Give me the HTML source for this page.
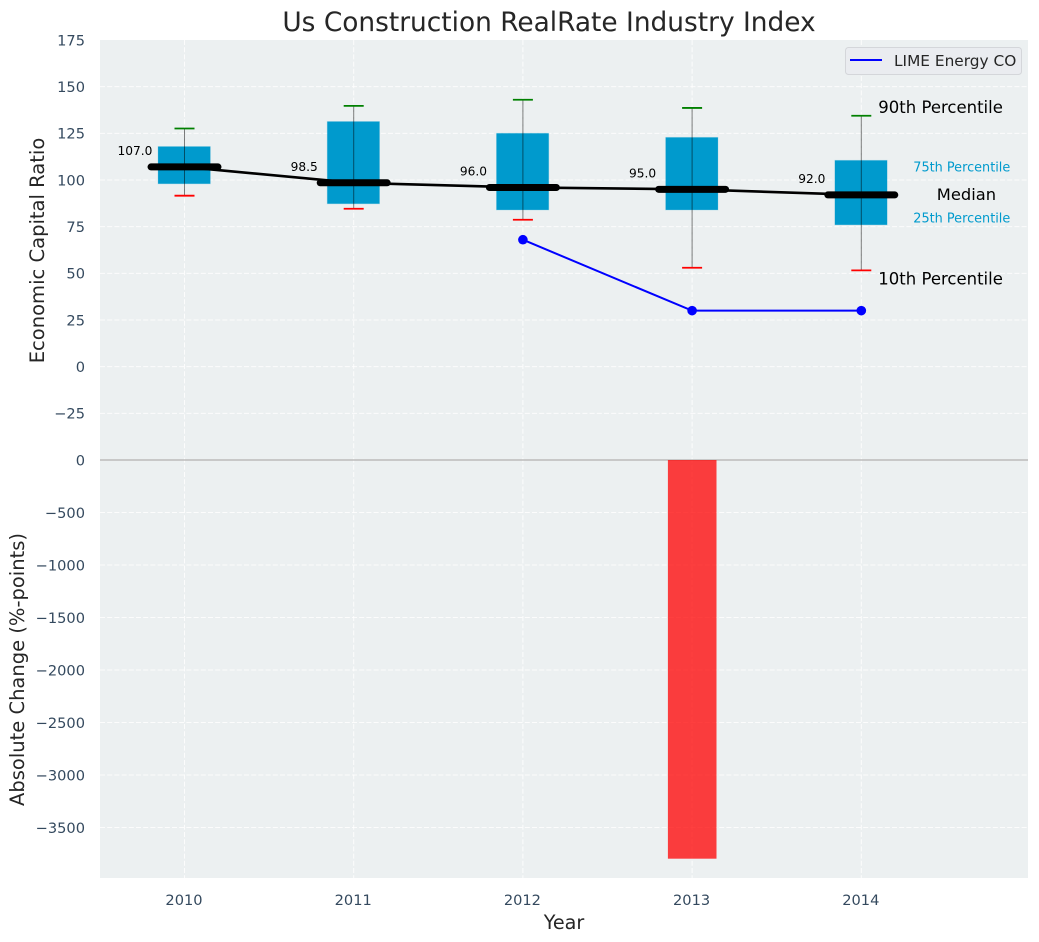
<!DOCTYPE html>
<html><head><meta charset="utf-8"><title>Us Construction RealRate Industry Index</title>
<style>
html,body{margin:0;padding:0;background:#fff;width:1039px;height:942px;overflow:hidden}
svg{display:block}
text{font-family:"DejaVu Sans","Liberation Sans",sans-serif}
</style></head>
<body>
<svg id="chart" width="1039" height="942" viewBox="0 0 1039 942" xmlns="http://www.w3.org/2000/svg"></svg>
<script>
const years = [2010, 2011, 2012, 2013, 2014];
const p90 = [127.6, 139.7, 143, 138.6, 134.4];
const p75 = [117.9, 131.3, 125, 122.8, 110.5];
const medians = [107, 98.5, 96, 95, 92];
const p25 = [98, 87.3, 84, 84, 76];
const p10 = [91.6, 84.6, 78.7, 53, 51.6];
const companyYears = [2012, 2013, 2014];
const companyValues = [68, 30, 30];
const changeYears = [2013];
const changeValues = [-3797];
const upperTicks = [175, 150, 125, 100, 75, 50, 25, 0, -25];
const lowerTicks = [0, -500, -1000, -1500, -2000, -2500, -3000, -3500];

const NS = 'http://www.w3.org/2000/svg';
const svg = document.getElementById('chart');
const plot = {left: 100, right: 1028, top: 40, mid: 460, bottom: 878};
const x = v => 184.5 + (v - 2010) * 169.2;
const yUp = v => 40 + (175 - v) * 420 / 225;
const yLow = v => 460 + (0 - v) * 0.105;
const fmt = v => String(v).replace('-', '\u2212');

function mk(tag, attrs, txt) {
  const e = document.createElementNS(NS, tag);
  for (const k in attrs) e.setAttribute(k, attrs[k]);
  if (txt !== undefined) e.textContent = txt;
  svg.appendChild(e);
  return e;
}
let el;

el = mk('rect', {x: plot.left, y: plot.top, width: plot.right - plot.left, height: plot.mid - plot.top, fill: '#ecf0f1'});


el = mk('rect', {x: plot.left, y: plot.mid, width: plot.right - plot.left, height: plot.bottom - plot.mid, fill: '#ecf0f1'});



const gridStyle = {stroke: '#ffffff', 'stroke-width': 1, 'stroke-dasharray': '5 2.2', opacity: 0.85};

upperTicks.forEach(t => {
  if (t !== 175) {
    el = mk('line', Object.assign({x1: plot.left, x2: plot.right, y1: yUp(t), y2: yUp(t)}, gridStyle));
    
    
  }
  el = mk('text', {x: 85, y: yUp(t) + 5.3, 'text-anchor': 'end', 'font-size': 14.6, fill: '#34495e'}, fmt(t));
  
  
});
lowerTicks.forEach(t => {
  if (t !== 0) {
    el = mk('line', Object.assign({x1: plot.left, x2: plot.right, y1: yLow(t), y2: yLow(t)}, gridStyle));
    
    
  }
  el = mk('text', {x: 85, y: yLow(t) + 5.3, 'text-anchor': 'end', 'font-size': 14.6, fill: '#34495e'}, fmt(t));
  
  
});
years.forEach(yr => {
  el = mk('line', Object.assign({x1: x(yr), x2: x(yr), y1: plot.top, y2: plot.bottom}, gridStyle));
  
  
  el = mk('text', {x: x(yr) - 0.5, y: 905, 'text-anchor': 'middle', 'font-size': 14.6, fill: '#34495e'}, yr);
  
  
});

el = mk('line', {x1: plot.left, x2: plot.right, y1: plot.mid, y2: plot.mid, stroke: '#bbbbbb', 'stroke-width': 1.5});



years.forEach((yr, i) => {
  el = mk('rect', {x: x(yr) - 26.4, y: yUp(p75[i]), width: 52.2, height: yUp(p25[i]) - yUp(p75[i]), fill: '#009acd', stroke: 'rgba(0,154,205,0.2)', 'stroke-width': 1});
  
  
  el = mk('line', {x1: x(yr), x2: x(yr), y1: yUp(p90[i]), y2: yUp(p10[i]), stroke: 'rgba(0,0,0,0.5)', 'stroke-width': 1});
  
  
  el = mk('line', {x1: x(yr) - 10, x2: x(yr) + 10, y1: yUp(p90[i]), y2: yUp(p90[i]), stroke: '#008000', 'stroke-width': 1.8});
  
  
  el = mk('line', {x1: x(yr) - 10, x2: x(yr) + 10, y1: yUp(p10[i]), y2: yUp(p10[i]), stroke: '#ff0000', 'stroke-width': 1.8});
  
  
});

el = mk('polyline', {points: years.map((yr, i) => x(yr) + ',' + yUp(medians[i])).join(' '), fill: 'none', stroke: '#000', 'stroke-width': 2.6});



years.forEach((yr, i) => {
  el = mk('line', {x1: x(yr) - 33.5, x2: x(yr) + 33.5, y1: yUp(medians[i]), y2: yUp(medians[i]), stroke: '#000', 'stroke-width': 7, 'stroke-linecap': 'round'});
  
  
  el = mk('text', {x: x(yr) - 49.5, y: yUp(medians[i]) - 12, 'text-anchor': 'middle', 'font-size': 12.2, fill: '#000'}, medians[i].toFixed(1));
  
  
});

el = mk('polyline', {points: companyYears.map((yr, i) => x(yr) + ',' + yUp(companyValues[i])).join(' '), fill: 'none', stroke: '#0000ff', 'stroke-width': 2});


companyYears.forEach((yr, i) => {
  el = mk('circle', {cx: x(yr), cy: yUp(companyValues[i]), r: 4.8, fill: '#0000ff'});
  
  
});

changeYears.forEach((yr, i) => {
  el = mk('rect', {x: x(yr) - 24.2, y: yLow(0), width: 48.6, height: yLow(changeValues[i]) - yLow(0), fill: 'rgba(255,0,0,0.75)'});
  
  
});

const annoX = x(years[years.length - 1]);
el = mk('text', {x: annoX + 17, y: yUp(p90[4]) - 3, 'font-size': 16.5, fill: '#000'}, '90th Percentile');


el = mk('text', {x: annoX + 17, y: yUp(p10[4]) + 14, 'font-size': 16.5, fill: '#000'}, '10th Percentile');


el = mk('text', {x: annoX + 75.5, y: yUp(medians[4]) + 5, 'font-size': 16.3, fill: '#000'}, 'Median');


el = mk('text', {x: annoX + 52, y: yUp(p75[4]) + 11, 'font-size': 12.85, fill: '#009acd'}, '75th Percentile');


el = mk('text', {x: annoX + 52, y: yUp(p25[4]) - 2.5, 'font-size': 12.85, fill: '#009acd'}, '25th Percentile');



el = mk('rect', {x: 845.5, y: 47.5, width: 176, height: 27, rx: 3, fill: '#eaecf0', stroke: '#d4d6da', 'stroke-width': 1});


el = mk('line', {x1: 850, x2: 882, y1: 60, y2: 60, stroke: '#0000ff', 'stroke-width': 2});


el = mk('text', {x: 894, y: 66, 'font-size': 15.35, fill: '#262626'}, 'LIME Energy CO');



el = mk('text', {x: 549, y: 31, 'text-anchor': 'middle', 'font-size': 26.4, fill: '#262626'}, 'Us Construction RealRate Industry Index');


el = mk('text', {x: 564, y: 929, 'text-anchor': 'middle', 'font-size': 19.2, fill: '#262626'}, 'Year');


el = mk('text', {transform: 'translate(44,250.5) rotate(-90)', 'text-anchor': 'middle', 'font-size': 19.55, fill: '#262626'}, 'Economic Capital Ratio');


el = mk('text', {transform: 'translate(24,669.5) rotate(-90)', 'text-anchor': 'middle', 'font-size': 19.5, fill: '#262626'}, 'Absolute Change (%-points)');


</script>
</body></html>
